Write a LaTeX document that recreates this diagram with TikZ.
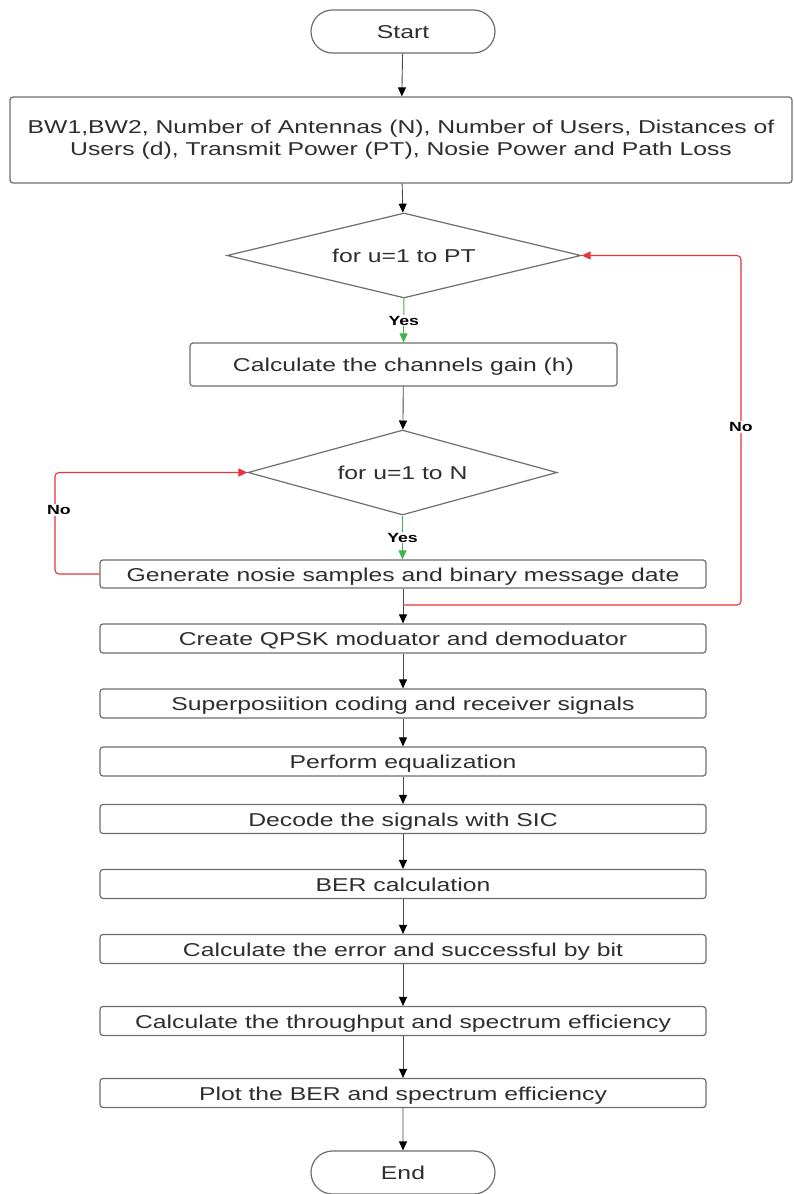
\documentclass[tikz,border=0pt]{standalone}
\usepackage{fontspec}
\setmainfont{Liberation Sans}[FakeStretch=1.33]
\usetikzlibrary{shapes.geometric,shapes.misc,arrows.meta}
\definecolor{txt}{HTML}{2E2E2E}
\definecolor{edge}{HTML}{6E6E6E}
\definecolor{wire}{HTML}{4A4A4A}
\definecolor{loopred}{HTML}{E8343A}
\definecolor{yesgreen}{HTML}{3DB54A}
\begin{document}
\begin{tikzpicture}[x=1pt,y=-1pt,
  every node/.style={text=txt,font=\fontsize{18.6}{22}\selectfont},
  oneline/.style={text height=14pt,text depth=0pt},
  terminal/.style={draw=edge,line width=1.2pt,rounded rectangle,minimum width=184pt,minimum height=43pt,inner sep=0pt,oneline},
  procbox/.style={draw=edge,line width=1.2pt,rounded corners=3pt,minimum width=606pt,minimum height=29pt,inner sep=0pt,oneline},
  decision/.style={draw=edge,line width=1.2pt,diamond,inner sep=0pt,oneline},
  flow/.style={draw=wire,line width=0.9pt,-{Triangle[length=9pt,width=8pt,color=black]}},
  yesflow/.style={draw=yesgreen,line width=1pt,-{Triangle[length=9pt,width=8pt]}},
  noflow/.style={draw=loopred,line width=1.1pt,rounded corners=4pt,-{Triangle[length=9pt,width=8pt]}},
  tag/.style={fill=white,inner sep=1pt,font=\fontsize{13.3}{14}\bfseries\selectfont,text=black}]
\useasboundingbox (0,0) rectangle (793,1194);
\fill[white] (0,0) rectangle (793,1194);

% terminals, inputs and decisions
\node[terminal] (start) at (403,31.5) {Start};
\node[draw=edge,line width=1.2pt,rounded corners=3pt,minimum width=782pt,minimum height=86pt,align=center,inner sep=0pt] (inp) at (401,140)
  {BW1,BW2, Number of Antennas (N), Number of Users, Distances of\\Users (d), Transmit Power (PT), Nosie Power and Path Loss};
\node[decision,aspect=4.16,minimum width=354pt,minimum height=85pt] (loopPT) at (404,255.5) {for u=1 to PT};
\node[procbox,minimum width=427pt,minimum height=43pt] (gain) at (403.5,364.5) {Calculate the channels gain (h)};
\node[decision,aspect=3.64,minimum width=309pt,minimum height=85pt] (loopN) at (402.5,472.5) {for u=1 to N};
\node[procbox,minimum height=28pt] (noise) at (403,574) {Generate nosie samples and binary message date};

% processing chain
\node[procbox] (qpsk) at (403,638.5) {Create QPSK moduator and demoduator};
\node[procbox] (sup) at (403,703.5) {Superposiition coding and receiver signals};
\node[procbox] (eq) at (403,761.5) {Perform equalization};
\node[procbox] (sic) at (403,819) {Decode the signals with SIC};
\node[procbox] (ber) at (403,884) {BER calculation};
\node[procbox] (err) at (403,949) {Calculate the error and successful by bit};
\node[procbox] (thr) at (403,1021) {Calculate the throughput and spectrum efficiency};
\node[procbox] (plot) at (403,1093) {Plot the BER and spectrum efficiency};
\node[terminal] (stop) at (403,1172.5) {End};

% main connectors
\draw[flow] (start) -- (inp);
\draw[flow] (inp) -- (loopPT);
\draw[yesflow] (loopPT.south) -- node[tag] {Yes} (gain.north);
\draw[flow] (gain) -- (loopN);
\draw[yesflow] (loopN.south) -- node[tag] {Yes} (loopN.south |- noise.north);
\draw[flow] (noise.south) -- (noise.south |- qpsk.north);
\draw[flow] (qpsk) -- (sup);
\draw[flow] (sup) -- (eq);
\draw[flow] (eq) -- (sic);
\draw[flow] (sic) -- (ber);
\draw[flow] (ber) -- (err);
\draw[flow] (err) -- (thr);
\draw[flow] (thr) -- (plot);
\draw[flow] (plot) -- (stop);

% loop-back connectors
\coordinate (leftrail) at (55,0);
\coordinate (rightrail) at (741,0);
\coordinate (split) at (403,605);
\draw[noflow] (noise.west) -| (leftrail |- loopN.west) -- (loopN.west);
\node[tag] (noN) at (59,510) {No};
\draw[noflow] (split) -| (rightrail |- loopPT.east) -- (loopPT.east);
\node[tag] (noPT) at (741,427) {No};
\end{tikzpicture}
\end{document}
